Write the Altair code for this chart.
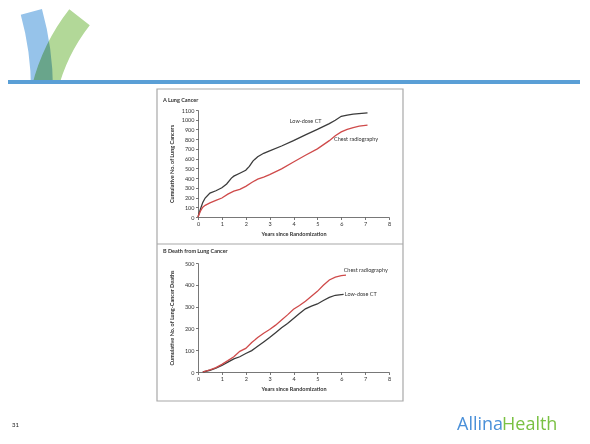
import altair as alt
import pandas as pd

# ---------------- data ----------------
groups = ["Low-dose CT", "Chest radiography"]
line_colors = ["#3b3b3b", "#cf4a4a"]

# Panel A: cumulative number of lung cancers
a_ct_years = [0, 0.1, 0.2, 0.3, 0.5, 0.75, 1.0, 1.2, 1.4, 1.5, 1.75, 2.0, 2.15, 2.3, 2.5,
              2.75, 3.0, 3.5, 4.0, 4.5, 5.0, 5.5, 5.75, 6.0, 6.25, 6.5, 7.1]
a_ct_counts = [0, 80, 150, 195, 245, 270, 300, 340, 400, 420, 450, 480, 520, 575, 620,
               655, 680, 730, 785, 845, 900, 960, 995, 1035, 1048, 1058, 1070]
a_cxr_years = [0, 0.1, 0.2, 0.3, 0.5, 0.75, 1.0, 1.25, 1.5, 1.75, 2.0, 2.25, 2.5, 2.75,
               3.0, 3.5, 4.0, 4.5, 5.0, 5.5, 5.75, 6.0, 6.25, 6.5, 6.75, 7.1]
a_cxr_counts = [0, 60, 100, 120, 145, 170, 195, 235, 265, 285, 315, 355, 390, 410,
                435, 495, 565, 635, 700, 785, 835, 875, 900, 920, 935, 945]

# Panel B: cumulative number of lung-cancer deaths
b_cxr_years = [0.2, 0.5, 0.75, 1.0, 1.25, 1.5, 1.75, 2.0, 2.25, 2.5, 2.75, 3.0, 3.25, 3.5,
               3.75, 4.0, 4.25, 4.5, 4.75, 5.0, 5.25, 5.5, 5.75, 6.0, 6.2]
b_cxr_counts = [0, 10, 20, 35, 52, 70, 95, 108, 135, 158, 178, 195, 215, 238,
                262, 288, 305, 325, 348, 370, 398, 422, 435, 442, 444]
b_ct_years = [0.2, 0.5, 0.75, 1.0, 1.25, 1.5, 1.75, 2.0, 2.25, 2.5, 2.75, 3.0, 3.25, 3.5,
              3.75, 4.0, 4.25, 4.5, 4.75, 5.0, 5.25, 5.5, 5.75, 6.0, 6.1]
b_ct_counts = [0, 8, 18, 30, 45, 60, 70, 85, 98, 118, 138, 158, 180, 203,
               222, 245, 268, 290, 302, 312, 328, 342, 352, 355, 356]

# direct labels (data coordinates)
a_label_text = ["Low-dose CT", "Chest radiography"]
a_label_x = [3.84, 5.7]
a_label_y = [990, 800]
b_label_text = ["Chest radiography", "Low-dose CT"]
b_label_x = [6.1, 6.15]
b_label_y = [466, 357]

x_ticks = list(range(0, 9))
a_y_ticks = list(range(0, 1101, 100))
b_y_ticks = list(range(0, 501, 100))

FONT = "Lato"


def long_df(series):
    rows = []
    for g, xs, ys in series:
        for xv, yv in zip(xs, ys):
            rows.append({"year": xv, "count": yv, "group": g})
    return pd.DataFrame(rows)


df_a = long_df([("Low-dose CT", a_ct_years, a_ct_counts),
                ("Chest radiography", a_cxr_years, a_cxr_counts)])
df_b = long_df([("Low-dose CT", b_ct_years, b_ct_counts),
                ("Chest radiography", b_cxr_years, b_cxr_counts)])
lab_a = pd.DataFrame({"year": a_label_x, "count": a_label_y, "label": a_label_text})
lab_b = pd.DataFrame({"year": b_label_x, "count": b_label_y, "label": b_label_text})
one = pd.DataFrame({"k": [0]})

W = 191


def panel(df, labs, ymax, yticks, ytitle, title, h, title_dy, extra=()):
    x = alt.X("year:Q", scale=alt.Scale(domain=[0, 8], nice=False),
              axis=alt.Axis(values=x_ticks, format="d", title="Years since Randomization",
                            titleY=16, titleBaseline="middle", labelFlush=False))
    y = alt.Y("count:Q", scale=alt.Scale(domain=[0, ymax], nice=False),
              axis=alt.Axis(values=yticks, format="d", title=ytitle, titleX=-27,
                            titleY=h / 2, titleAngle=270, titleAlign="center",
                            titleBaseline="middle", labelFlush=False))
    color = alt.Color("group:N", scale=alt.Scale(domain=groups, range=line_colors),
                      legend=None)
    lines = alt.Chart(df).mark_line(strokeWidth=1.3).encode(x=x, y=y, color=color,
                                                              detail="group:N")
    labels = alt.Chart(labs).mark_text(align="left", baseline="middle", fontSize=5.5,
                                       font=FONT, color="#333333").encode(
        x=x, y=y, text="label:N")
    ttl = alt.Chart(one).mark_text(align="left", baseline="middle", fontSize=5.5,
                                   font=FONT, fontWeight="bold", color="#333333").encode(
        x=alt.value(-35), y=alt.value(title_dy), text=alt.value(title))
    return alt.layer(*extra, ttl, lines, labels).properties(width=W, height=h)


# ---------- slide decorations (pixel positions relative to panel A plot) ----------
def arc(color, cx, cy, t1, t2, r_out, r_in):
    return alt.Chart(one).mark_arc(color=color, blend="multiply").encode(
        x=alt.value(cx), y=alt.value(cy), theta=alt.value(t1), theta2=alt.value(t2),
        radius=alt.value(r_out), radius2=alt.value(r_in))


GREEN = "#b2d898"
BLUE = "#96c3ea"
canvas = alt.Chart(one).mark_rect(fillOpacity=0, strokeOpacity=0).encode(
    x=alt.value(-190), x2=alt.value(382), y=alt.value(-102), y2=alt.value(320))
green1 = arc(GREEN, 32, 25, 4.957, 5.376, 204, 178)
blue1 = arc(BLUE, -448, -20, 1.300, 1.588, 303, 281)
mask = alt.Chart(one).mark_rect(color="white").encode(
    x=alt.value(-190), x2=alt.value(-45), y=alt.value(-27), y2=alt.value(-5))
blue_bar = alt.Chart(one).mark_rect(color="#5a9fd6").encode(
    x=alt.value(-190), x2=alt.value(382), y=alt.value(-30), y2=alt.value(-26))
frame = alt.Chart(one).mark_rect(fill="white", fillOpacity=0, stroke="#a8a8a8",
                                 strokeWidth=1.2).encode(
    x=alt.value(-41), x2=alt.value(205), y=alt.value(-21), y2=alt.value(291))
divider = alt.Chart(one).mark_rule(color="#a8a8a8", strokeWidth=1.2).encode(
    x=alt.value(-41), x2=alt.value(205), y=alt.value(134))
allina = alt.Chart(one).mark_text(align="left", baseline="alphabetic", fontSize=18,
                                  font="Open Sans", color="#4a90d9").encode(
    x=alt.value(259), y=alt.value(320), text=alt.value("Allina"))
health = alt.Chart(one).mark_text(align="left", baseline="alphabetic", fontSize=18,
                                  font="Open Sans", color="#7ac143").encode(
    x=alt.value(304), y=alt.value(320), text=alt.value("Health"))
slide_no = alt.Chart(one).mark_text(align="left", baseline="alphabetic", fontSize=6,
                                    font=FONT, color="#222222").encode(
    x=alt.value(-186), y=alt.value(317), text=alt.value("31"))

decor = (canvas, green1, blue1, mask, blue_bar, frame, divider,
         allina, health, slide_no)

panel_a = panel(df_a, lab_a, 1100, a_y_ticks, "Cumulative No. of Lung Cancers",
                "A   Lung Cancer", 107, -10, decor)
panel_b = panel(df_b, lab_b, 500, b_y_ticks, "Cumulative No. of Lung-Cancer Deaths",
                "B   Death from Lung Cancer", 109, -12)

chart = alt.vconcat(panel_a, panel_b, spacing=46, bounds="flush", padding=0).configure_view(
    strokeWidth=0
).configure_axis(
    grid=False,
    domainColor="#555555", domainWidth=0.8,
    tickColor="#555555", tickWidth=0.8, tickSize=2.5,
    labelFont=FONT, labelFontSize=5.5, labelColor="#333333", labelPadding=1.5,
    labelOverlap=False,
    titleFont=FONT, titleFontSize=5.5, titleFontWeight="bold", titleColor="#333333",
)

chart.save("out.html", embed_options={"renderer": "svg", "actions": False})
